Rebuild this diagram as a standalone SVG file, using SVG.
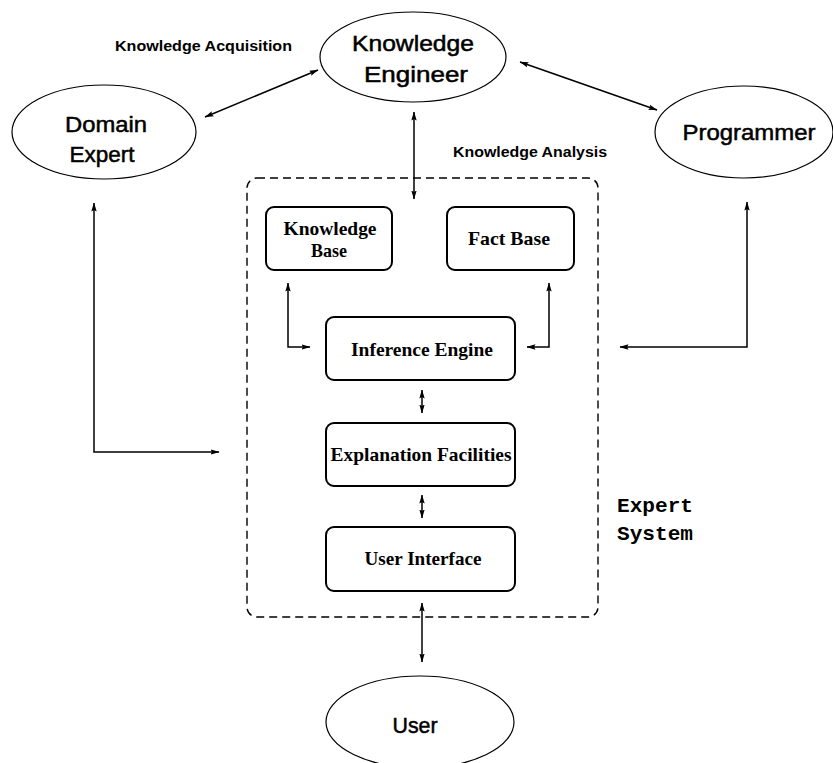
<svg xmlns="http://www.w3.org/2000/svg" width="833" height="763" viewBox="0 0 833 763">
<style>
.ell{fill:#fff;stroke:#000;stroke-width:1.2}
.box{fill:#fff;stroke:#000;stroke-width:2}
.frame{fill:none;stroke:#000;stroke-width:1.4;stroke-dasharray:8 5}
.et{font-family:"Liberation Sans",Arial,sans-serif;font-size:22px;fill:#000;stroke:#000;stroke-width:0.5;text-anchor:middle}
.bt{font-family:"Liberation Serif","Times New Roman",serif;font-size:19px;font-weight:bold;fill:#000;text-anchor:middle}
.lt{font-family:"Liberation Sans",Arial,sans-serif;font-size:14px;font-weight:bold;fill:#000}
.mt{font-family:"Liberation Mono","Courier New",monospace;font-size:21px;font-weight:bold;fill:#000}
.con{fill:none;stroke:#000;stroke-width:1.5;marker-start:url(#ah);marker-end:url(#ah)}
</style>
<defs>
<marker id="ah" viewBox="0 0 9 6" refX="8.5" refY="3" markerWidth="9" markerHeight="6" markerUnits="userSpaceOnUse" orient="auto-start-reverse">
<path d="M0,0.3 L9,3 L0,5.7 L1.5,3 z" fill="#000"/>
</marker>
</defs>
<rect width="833" height="763" fill="#fff"/>
<rect class="frame" x="247" y="178" width="351" height="439" rx="10"/>
<g id="connectors">
<path class="con" d="M318,70 L205,117"/>
<path class="con" d="M520,62 L657,110"/>
<path class="con" d="M414,112 L414,199"/>
<path class="con" d="M94,203 L94,452 L219,452"/>
<path class="con" d="M747,202 L747,347 L620,347"/>
<path class="con" d="M288,283 L288,347 L310,347"/>
<path class="con" d="M549,283 L549,347 L527,347"/>
<path class="con" d="M422,390 L422,413"/>
<path class="con" d="M422,495 L422,518"/>
<path class="con" d="M422,603 L422,662"/>
</g>
<g id="knowledge-engineer">
<ellipse class="ell" cx="413" cy="57" rx="93" ry="45"/>
<text class="et" x="413" y="51" textLength="122" lengthAdjust="spacingAndGlyphs">Knowledge</text>
<text class="et" x="416" y="82" textLength="104" lengthAdjust="spacingAndGlyphs">Engineer</text>
</g>
<g id="domain-expert">
<ellipse class="ell" cx="104" cy="132" rx="92" ry="47"/>
<text class="et" x="106" y="132" textLength="82" lengthAdjust="spacingAndGlyphs">Domain</text>
<text class="et" x="102" y="162" textLength="65" lengthAdjust="spacingAndGlyphs">Expert</text>
</g>
<g id="programmer">
<ellipse class="ell" cx="744" cy="132" rx="89" ry="46"/>
<text class="et" x="749" y="140" textLength="133" lengthAdjust="spacingAndGlyphs">Programmer</text>
</g>
<g id="user">
<ellipse class="ell" cx="420" cy="722" rx="94" ry="46"/>
<text class="et" x="415" y="733" textLength="45" lengthAdjust="spacingAndGlyphs">User</text>
</g>
<g id="knowledge-base">
<rect class="box" x="266" y="207" width="126" height="63" rx="8"/>
<text class="bt" x="330" y="235" textLength="93" lengthAdjust="spacingAndGlyphs">Knowledge</text>
<text class="bt" x="329" y="257" textLength="36" lengthAdjust="spacingAndGlyphs">Base</text>
</g>
<g id="fact-base">
<rect class="box" x="447" y="207" width="127" height="63" rx="8"/>
<text class="bt" x="509" y="245" textLength="82" lengthAdjust="spacingAndGlyphs">Fact Base</text>
</g>
<g id="inference-engine">
<rect class="box" x="326" y="317" width="189" height="63" rx="8"/>
<text class="bt" x="422" y="356" textLength="142" lengthAdjust="spacingAndGlyphs">Inference Engine</text>
</g>
<g id="explanation-facilities">
<rect class="box" x="326" y="423" width="189" height="63" rx="8"/>
<text class="bt" x="421" y="461" textLength="181" lengthAdjust="spacingAndGlyphs">Explanation Facilities</text>
</g>
<g id="user-interface">
<rect class="box" x="326" y="527" width="189" height="64" rx="8"/>
<text class="bt" x="423" y="565" textLength="117" lengthAdjust="spacingAndGlyphs">User Interface</text>
</g>
<g id="labels">
<text class="lt" x="115" y="51" textLength="177" lengthAdjust="spacingAndGlyphs">Knowledge Acquisition</text>
<text class="lt" x="453" y="157" textLength="154" lengthAdjust="spacingAndGlyphs">Knowledge Analysis</text>
<text class="mt" x="617" y="512" textLength="76" lengthAdjust="spacingAndGlyphs">Expert</text>
<text class="mt" x="617" y="540" textLength="76" lengthAdjust="spacingAndGlyphs">System</text>
</g>
</svg>
